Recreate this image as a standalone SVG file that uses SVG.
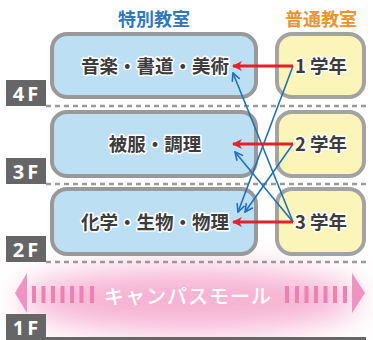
<svg xmlns="http://www.w3.org/2000/svg" width="373" height="340" viewBox="0 0 373 340">
<style>
.title{font-family:"Noto Sans CJK JP","Noto Sans",sans-serif;font-weight:700;font-size:18px;text-anchor:middle;dominant-baseline:central}
.room{fill:#bddff4;stroke:#999;stroke-width:4}
.grade{fill:#fbf5b9;stroke:#a3a3a3;stroke-width:4}
.lbl{font-family:"Noto Sans CJK JP","Noto Sans",sans-serif;font-weight:700;font-size:18.5px;fill:#3c3c3c;stroke:#fff;stroke-width:3;paint-order:stroke;stroke-linejoin:round;text-anchor:middle;dominant-baseline:central}
.floorbox{fill:#666}
.floor{font-family:"Open Sans","Noto Sans",sans-serif;font-weight:700;font-size:20px;fill:#fff;text-anchor:middle;dominant-baseline:central;letter-spacing:3px}
.dash{stroke:#9a9a9a;stroke-width:2.5;stroke-dasharray:5 4;fill:none}
.red{stroke:#e3202b;stroke-width:3;fill:none}
.blue{stroke:#1f70bd;stroke-width:1.6;fill:none}
.bar{fill:#f07fb4}
.mallhead{fill:#f292c0}
</style>
<defs>
<marker id="ra" markerUnits="userSpaceOnUse" viewBox="0 0 10 10" refX="9" refY="5" markerWidth="10" markerHeight="10" orient="auto">
<path d="M0,0 L10,5 L0,10 L3,5 z" fill="#e3202b"/>
</marker>
<marker id="ba" markerUnits="userSpaceOnUse" viewBox="0 0 10 10" refX="9" refY="5" markerWidth="10" markerHeight="10" orient="auto">
<path d="M1,1 L9,5 L1,9" fill="none" stroke="#1f70bd" stroke-width="1.6"/>
</marker>
<filter id="blur" x="-50%" y="-100%" width="200%" height="300%">
<feGaussianBlur stdDeviation="16"/>
</filter>
</defs>
<rect width="373" height="340" fill="#fff"/>
<ellipse cx="190" cy="300" rx="170" ry="32" fill="#f5a9cd" opacity="0.9" filter="url(#blur)"/>

<g id="headers">
<text class="title" x="154" y="18" fill="#2d78bf">特別教室</text>
<text class="title" x="321" y="18" fill="#f0932b">普通教室</text>
</g>

<g id="floors">
<line class="dash" x1="46" y1="106" x2="366" y2="106"/>
<line class="dash" x1="46" y1="184" x2="366" y2="184"/>
<line class="dash" x1="46" y1="262" x2="366" y2="262"/>
<rect x="46" y="337" width="320" height="3" fill="#666"/>
<g id="f4"><rect class="floorbox" x="6" y="80" width="40" height="26"/><text class="floor" x="27" y="93">4F</text></g>
<g id="f3"><rect class="floorbox" x="6" y="158" width="40" height="26"/><text class="floor" x="27" y="171">3F</text></g>
<g id="f2"><rect class="floorbox" x="6" y="236" width="40" height="26"/><text class="floor" x="27" y="249">2F</text></g>
<g id="f1"><rect class="floorbox" x="6" y="314" width="40" height="26"/><text class="floor" x="27" y="327">1F</text></g>
</g>

<g id="room-art">
<rect class="room" x="52" y="34" width="204" height="63" rx="15"/>
<text class="lbl" x="155" y="65">音楽・書道・美術</text>
</g>
<g id="room-home">
<rect class="room" x="52" y="112" width="204" height="64" rx="15"/>
<text class="lbl" x="155" y="143">被服・調理</text>
</g>
<g id="room-sci">
<rect class="room" x="52" y="189" width="204" height="65" rx="15"/>
<text class="lbl" x="155" y="221">化学・生物・物理</text>
</g>
<g id="grade1">
<rect class="grade" x="277" y="34" width="87" height="63" rx="15"/>
<text class="lbl" x="321" y="65">1<tspan dx="4">学年</tspan></text>
</g>
<g id="grade2">
<rect class="grade" x="277" y="112" width="87" height="64" rx="15"/>
<text class="lbl" x="321" y="143">2<tspan dx="4">学年</tspan></text>
</g>
<g id="grade3">
<rect class="grade" x="277" y="189" width="87" height="65" rx="15"/>
<text class="lbl" x="321" y="221">3<tspan dx="4">学年</tspan></text>
</g>

<g id="connectors">
<line class="blue" x1="293" y1="66" x2="238" y2="212" marker-end="url(#ba)"/>
<line class="blue" x1="293" y1="144" x2="245" y2="212" marker-end="url(#ba)"/>
<line class="blue" x1="293" y1="222" x2="233" y2="73" marker-end="url(#ba)"/>
<line class="blue" x1="293" y1="222" x2="235" y2="152" marker-end="url(#ba)"/>
<line class="red" x1="293" y1="66" x2="233" y2="66" marker-end="url(#ra)"/>
<line class="red" x1="293" y1="144" x2="233" y2="144" marker-end="url(#ra)"/>
<line class="red" x1="293" y1="222" x2="233" y2="222" marker-end="url(#ra)"/>
</g>

<g id="mall">
<polygon class="mallhead" points="15,293 27,273 27,313"/>
<polygon class="mallhead" points="365,293 352,273 352,313"/>
<rect class="bar" x="32" y="286" width="4" height="17"/>
<rect class="bar" x="41.5" y="286" width="4" height="17"/>
<rect class="bar" x="51" y="286" width="4" height="17"/>
<rect class="bar" x="60.5" y="286" width="4" height="17"/>
<rect class="bar" x="70" y="286" width="4" height="17"/>
<rect class="bar" x="79.5" y="286" width="4" height="17"/>
<rect class="bar" x="90" y="286" width="4" height="17"/>
<rect class="bar" x="285" y="286" width="4" height="17"/>
<rect class="bar" x="295" y="286" width="4" height="17"/>
<rect class="bar" x="304.5" y="286" width="4" height="17"/>
<rect class="bar" x="314" y="286" width="4" height="17"/>
<rect class="bar" x="323.5" y="286" width="4" height="17"/>
<rect class="bar" x="333" y="286" width="4" height="17"/>
<rect class="bar" x="343" y="286" width="4" height="17"/>
<text x="188" y="295" font-family="'Noto Sans CJK JP','Noto Sans',sans-serif" font-size="20" font-weight="500" fill="#fff" text-anchor="middle" dominant-baseline="central" letter-spacing="1">キャンパスモール</text>
</g>
</svg>
